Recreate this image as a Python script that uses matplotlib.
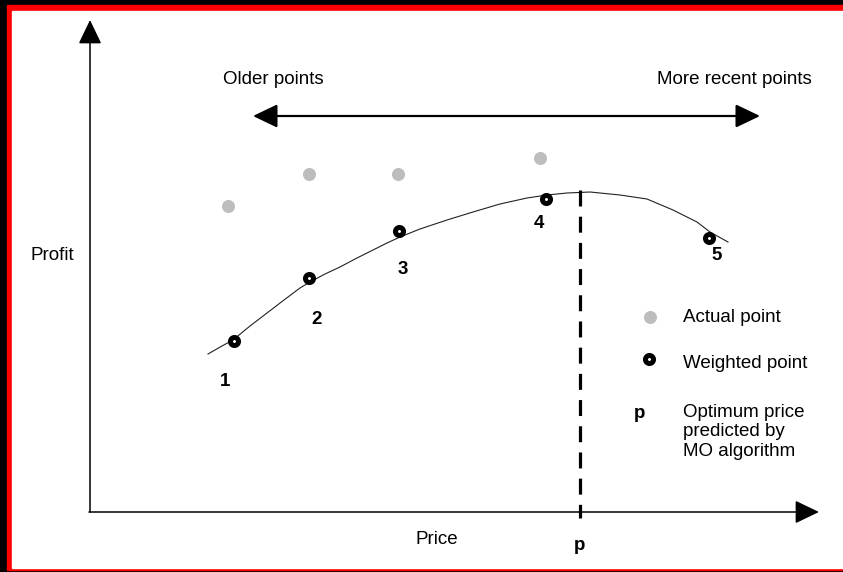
import matplotlib.pyplot as plt
from matplotlib.patches import Rectangle

plt.rcParams['font.family'] = ['Liberation Sans', 'DejaVu Sans']

# values (pixel units of the original diagram, y grows downward)
weighted_x = [234, 309, 399, 546, 709]
weighted_y = [341, 278, 231, 199, 238]
actual_x = [228, 309, 398, 540]
actual_y = [206, 174, 174, 158]
point_labels = ['1', '2', '3', '4', '5']
label_x = [225, 317, 403, 539, 717]
label_y = [382, 320, 270, 224, 255]
curve_x = [208, 222, 233, 250, 267, 284, 300, 310, 325, 340, 357, 373, 387, 400,
           420, 447, 473, 500, 527, 547, 567, 590, 620, 647, 673, 697, 710, 728]
curve_y = [354, 346, 340, 326, 313, 300, 288, 282, 274, 267, 258, 250, 243, 237,
           229, 220, 212, 204, 198, 195, 193, 192, 195, 199, 210, 222, 232, 242]
p_opt = 580

W, H = 843, 572
fig = plt.figure(figsize=(W / 100, H / 100), dpi=100, facecolor='black')
ax = fig.add_axes([0, 0, 1, 1])
ax.set_xlim(0, W)
ax.set_ylim(H, 0)
ax.axis('off')

# frame: black outside, red band, white inside
ax.add_patch(Rectangle((0, 0), W, H, color='black', zorder=0))
ax.add_patch(Rectangle((7, 5), W - 7, 565, color='red', zorder=0))
ax.add_patch(Rectangle((12, 11), W - 12, 557, color='white', zorder=0))

arrow = dict(arrowstyle='-|>,head_length=0.75,head_width=0.36', color='black',
             lw=1.1, mutation_scale=20, shrinkA=0, shrinkB=0)
ax.annotate('', xy=(90, 20), xytext=(90, 512), arrowprops=arrow)
ax.annotate('', xy=(819, 512), xytext=(89, 512), arrowprops=arrow)
ax.annotate('', xy=(253, 116), xytext=(760, 116),
            arrowprops=dict(arrowstyle='<|-|>,head_length=0.75,head_width=0.36',
                            color='black', lw=1.6, mutation_scale=20, shrinkA=0, shrinkB=0))

ax.plot(curve_x, curve_y, color='#222222', lw=0.8, zorder=2)
ax.plot([p_opt, p_opt], [190, 518], color='black', lw=2.3, dashes=(5.0, 3.2), zorder=2)

ax.plot(actual_x, actual_y, 'o', ms=9.4, color='#bdbdbd', mec='#bdbdbd', mew=0, zorder=3)
ax.plot(weighted_x, weighted_y, 'o', ms=5.8, mfc='white', mec='black', mew=3.6, zorder=3)

fs = 13.5
for t, x, y in zip(point_labels, label_x, label_y):
    ax.text(x, y, t, fontsize=fs, fontweight='bold', ha='center', va='center')

ax.text(273, 79, 'Older points', fontsize=fs, ha='center', va='center')
ax.text(734, 79, 'More recent points', fontsize=fs, ha='center', va='center')
ax.text(30, 256, 'Profit', fontsize=fs, ha='left', va='center')
ax.text(437, 540, 'Price', fontsize=fs, ha='center', va='center')
ax.text(p_opt, 545, 'p', fontsize=fs, fontweight='bold', ha='center', va='center')

# legend
ax.plot([650], [317], 'o', ms=9.4, color='#bdbdbd', mew=0)
ax.plot([649], [359], 'o', ms=5.8, mfc='white', mec='black', mew=3.6)
ax.text(683, 318, 'Actual point', fontsize=fs, va='center')
ax.text(683, 364, 'Weighted point', fontsize=fs, va='center')
ax.text(640, 413, 'p', fontsize=fs, fontweight='bold', ha='center', va='center')
ax.text(683, 404, 'Optimum price\npredicted by\nMO algorithm', fontsize=fs,
        va='top', linespacing=1.18)

fig.savefig('out.png', dpi=100, facecolor='black')
